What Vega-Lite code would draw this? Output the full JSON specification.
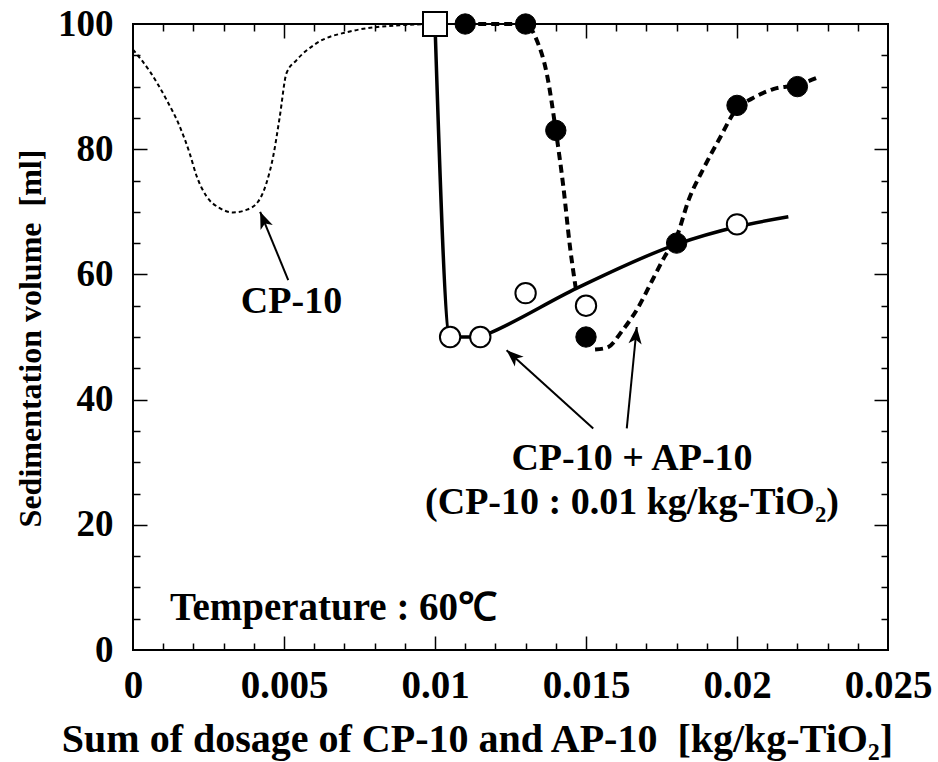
{
  "$schema": "https://vega.github.io/schema/vega-lite/v6.json",
  "width": 755,
  "height": 626,
  "autosize": "none",
  "padding": {"left": 133, "top": 24, "right": 50, "bottom": 112},
  "background": "white",
  "config": {
    "view": {"stroke": "black", "strokeWidth": 2},
    "font": "Liberation Serif",
    "axis": {"domain": false, "grid": false, "labelFont": "Liberation Serif", "titleFont": "Liberation Serif", "labelColor": "black", "titleColor": "black", "tickColor": "black", "labelFontWeight": "bold", "titleFontWeight": "bold"}
  },
  "datasets": {
    "curves": [
      {"series": "cp10", "x": 0, "y": 95.9},
      {"series": "cp10", "x": 0.00056, "y": 92.4},
      {"series": "cp10", "x": 0.00111, "y": 87.9},
      {"series": "cp10", "x": 0.00155, "y": 83.6},
      {"series": "cp10", "x": 0.00188, "y": 79.3},
      {"series": "cp10", "x": 0.0021, "y": 75.8},
      {"series": "cp10", "x": 0.00243, "y": 72.5},
      {"series": "cp10", "x": 0.00287, "y": 70.6},
      {"series": "cp10", "x": 0.00331, "y": 69.9},
      {"series": "cp10", "x": 0.00375, "y": 70.3},
      {"series": "cp10", "x": 0.00414, "y": 71.6},
      {"series": "cp10", "x": 0.00442, "y": 74.6},
      {"series": "cp10", "x": 0.00464, "y": 78.8},
      {"series": "cp10", "x": 0.00486, "y": 85.2},
      {"series": "cp10", "x": 0.00508, "y": 92.1},
      {"series": "cp10", "x": 0.00541, "y": 94.2},
      {"series": "cp10", "x": 0.00607, "y": 96.9},
      {"series": "cp10", "x": 0.00718, "y": 98.8},
      {"series": "cp10", "x": 0.00883, "y": 99.8},
      {"series": "cp10", "x": 0.01, "y": 100},
      {"series": "solid", "x": 0.01, "y": 100},
      {"series": "solid", "x": 0.0105, "y": 50},
      {"series": "solid", "x": 0.0115, "y": 50},
      {"series": "solid", "x": 0.0118, "y": 50.6},
      {"series": "solid", "x": 0.0147, "y": 57.8},
      {"series": "solid", "x": 0.018, "y": 64.8},
      {"series": "solid", "x": 0.02, "y": 67.6},
      {"series": "solid", "x": 0.0217, "y": 69.2},
      {"series": "dashA", "x": 0.011, "y": 100},
      {"series": "dashA", "x": 0.012, "y": 100},
      {"series": "dashA", "x": 0.013, "y": 100},
      {"series": "dashA", "x": 0.01337, "y": 97.4},
      {"series": "dashA", "x": 0.0137, "y": 92.1},
      {"series": "dashA", "x": 0.014, "y": 83},
      {"series": "dashA", "x": 0.01425, "y": 74},
      {"series": "dashA", "x": 0.01447, "y": 64.4},
      {"series": "dashA", "x": 0.01467, "y": 57.5},
      {"series": "dashB", "x": 0.0153, "y": 48},
      {"series": "dashB", "x": 0.0157, "y": 48.3},
      {"series": "dashB", "x": 0.0162, "y": 51},
      {"series": "dashB", "x": 0.0167, "y": 54.5},
      {"series": "dashB", "x": 0.0172, "y": 59.1},
      {"series": "dashB", "x": 0.0176, "y": 62.8},
      {"series": "dashB", "x": 0.018, "y": 66},
      {"series": "dashB", "x": 0.0184, "y": 71.9},
      {"series": "dashB", "x": 0.0189, "y": 77},
      {"series": "dashB", "x": 0.0194, "y": 81.5},
      {"series": "dashB", "x": 0.02, "y": 86.5},
      {"series": "dashB", "x": 0.0205, "y": 88.1},
      {"series": "dashB", "x": 0.0212, "y": 89.6},
      {"series": "dashB", "x": 0.022, "y": 90.3},
      {"series": "dashB", "x": 0.02275, "y": 91.6}
    ],
    "points": [
      {"kind": "open", "x": 0.0105, "y": 50},
      {"kind": "open", "x": 0.0115, "y": 50},
      {"kind": "open", "x": 0.013, "y": 57},
      {"kind": "open", "x": 0.015, "y": 55},
      {"kind": "open", "x": 0.02, "y": 68},
      {"kind": "square", "x": 0.01, "y": 100},
      {"kind": "filled", "x": 0.011, "y": 100},
      {"kind": "filled", "x": 0.013, "y": 100},
      {"kind": "filled", "x": 0.014, "y": 83},
      {"kind": "filled", "x": 0.015, "y": 50},
      {"kind": "filled", "x": 0.018, "y": 65},
      {"kind": "filled", "x": 0.02, "y": 87},
      {"kind": "filled", "x": 0.022, "y": 90}
    ],
    "arrows": [
      {"arrow": "a1", "end": "tail", "x": 0.00514, "y": 59.1},
      {"arrow": "a1", "end": "head", "x": 0.00421, "y": 70.0},
      {"arrow": "a2", "end": "tail", "x": 0.01524, "y": 35.4},
      {"arrow": "a2", "end": "head", "x": 0.01237, "y": 47.9},
      {"arrow": "a3", "end": "tail", "x": 0.01635, "y": 35.4},
      {"arrow": "a3", "end": "head", "x": 0.01668, "y": 51.6}
    ],
    "notes": [
      {"note": "cp", "x": 0.005248, "y": 55.6, "text": "CP-10"},
      {"note": "mix1", "x": 0.016523, "y": 30.5, "text": "CP-10 + AP-10"},
      {"note": "mix2", "x": 0.016523, "y": 23.5, "text": "(CP-10 : 0.01 kg/kg-TiO₂)"},
      {"note": "temp", "x": 0.001225, "y": 6.7, "text": "Temperature : 60℃"}
    ]
  },
  "resolve": {"axis": {"x": "independent", "y": "independent"}},
  "layer": [
    {
      "data": {"name": "curves"},
      "transform": [{"filter": "datum.series === 'cp10'"}],
      "mark": {"type": "line", "color": "black", "strokeWidth": 2, "strokeDash": [4, 3], "interpolate": "monotone"},
      "encoding": {
        "x": {"field": "x", "type": "quantitative", "scale": {"domain": [0, 0.025], "nice": false},
          "axis": {"orient": "bottom", "values": [0, 0.005, 0.01, 0.015, 0.02, 0.025], "ticks": false, "labelFontSize": 39, "labelPadding": 35, "labelBaseline": "middle", "labelFlush": false, "labelOverlap": false, "labelExpr": "datum.value === 0 ? '0' : format(datum.value, '.3~f')",
            "title": "Sum of dosage of CP-10 and AP-10\u00a0 [kg/kg-TiO₂]", "titleFontSize": 40, "titleX": 344, "titleY": 89, "titleBaseline": "middle", "titleAnchor": "middle"}},
        "y": {"field": "y", "type": "quantitative", "scale": {"domain": [0, 100], "nice": false},
          "axis": {"orient": "left", "values": [0, 20, 40, 60, 80, 100], "ticks": false, "labelFontSize": 37, "labelPadding": 20, "labelBaseline": "middle", "labelFlush": false, "labelOverlap": false,
            "title": "Sedimentation volume\u00a0 [ml]", "titleFontSize": 32, "titleAngle": -90, "titleX": -103, "titleY": 314, "titleBaseline": "middle", "titleAlign": "center"}}
      }
    },
    {
      "data": {"name": "curves"},
      "transform": [{"filter": "datum.series === 'solid'"}],
      "mark": {"type": "line", "color": "black", "strokeWidth": 3.5, "interpolate": "monotone"},
      "encoding": {
        "x": {"field": "x", "type": "quantitative", "scale": {"domain": [0, 0.025], "nice": false},
          "axis": {"orient": "bottom", "values": [0.005, 0.01, 0.015, 0.02], "labels": false, "tickSize": -14, "tickWidth": 1.5, "title": null}},
        "y": {"field": "y", "type": "quantitative", "scale": {"domain": [0, 100], "nice": false},
          "axis": {"orient": "left", "values": [20, 40, 60, 80], "labels": false, "tickSize": -14, "tickWidth": 1.5, "title": null}}
      }
    },
    {
      "data": {"name": "curves"},
      "transform": [{"filter": "datum.series === 'dashA'"}],
      "mark": {"type": "line", "color": "black", "strokeWidth": 4, "strokeDash": [8, 5], "interpolate": "monotone"},
      "encoding": {
        "x": {"field": "x", "type": "quantitative", "scale": {"domain": [0, 0.025], "nice": false},
          "axis": {"orient": "bottom", "values": [0.001, 0.002, 0.003, 0.004, 0.006, 0.007, 0.008, 0.009, 0.011, 0.012, 0.013, 0.014, 0.016, 0.017, 0.018, 0.019, 0.021, 0.022, 0.023, 0.024], "labels": false, "tickSize": -7, "tickWidth": 1.5, "title": null}},
        "y": {"field": "y", "type": "quantitative", "scale": {"domain": [0, 100], "nice": false},
          "axis": {"orient": "left", "values": [5, 10, 15, 25, 30, 35, 45, 50, 55, 65, 70, 75, 85, 90, 95], "labels": false, "tickSize": -7, "tickWidth": 1.5, "title": null}}
      }
    },
    {
      "data": {"name": "curves"},
      "transform": [{"filter": "datum.series === 'dashB'"}],
      "mark": {"type": "line", "color": "black", "strokeWidth": 4, "strokeDash": [8, 5], "interpolate": "monotone"},
      "encoding": {
        "x": {"field": "x", "type": "quantitative", "scale": {"domain": [0, 0.025], "nice": false},
          "axis": {"orient": "top", "values": [0.005, 0.01, 0.015, 0.02], "labels": false, "tickSize": -14, "tickWidth": 1.5, "title": null}},
        "y": {"field": "y", "type": "quantitative", "scale": {"domain": [0, 100], "nice": false},
          "axis": {"orient": "right", "values": [20, 40, 60, 80], "labels": false, "tickSize": -14, "tickWidth": 1.5, "title": null}}
      }
    },
    {
      "data": {"name": "arrows"},
      "mark": {"type": "line", "color": "black", "strokeWidth": 2},
      "encoding": {
        "detail": {"field": "arrow"},
        "x": {"field": "x", "type": "quantitative", "scale": {"domain": [0, 0.025], "nice": false},
          "axis": {"orient": "top", "values": [0.001, 0.002, 0.003, 0.004, 0.006, 0.007, 0.008, 0.009, 0.011, 0.012, 0.013, 0.014, 0.016, 0.017, 0.018, 0.019, 0.021, 0.022, 0.023, 0.024], "labels": false, "tickSize": -7, "tickWidth": 1.5, "title": null}},
        "y": {"field": "y", "type": "quantitative", "scale": {"domain": [0, 100], "nice": false},
          "axis": {"orient": "right", "values": [5, 10, 15, 25, 30, 35, 45, 50, 55, 65, 70, 75, 85, 90, 95], "labels": false, "tickSize": -7, "tickWidth": 1.5, "title": null}}
      }
    },
    {
      "data": {"name": "arrows"},
      "transform": [{"filter": "datum.arrow === 'a1' && datum.end === 'head'"}],
      "mark": {"type": "point", "shape": "M0,0L0.6,1.55L0,1.15L-0.6,1.55Z", "size": 484, "angle": 337.5, "filled": true, "color": "black", "opacity": 1},
      "encoding": {
        "x": {"field": "x", "type": "quantitative", "scale": {"domain": [0, 0.025], "nice": false}, "axis": null},
        "y": {"field": "y", "type": "quantitative", "scale": {"domain": [0, 100], "nice": false}, "axis": null}
      }
    },
    {
      "data": {"name": "arrows"},
      "transform": [{"filter": "datum.arrow === 'a2' && datum.end === 'head'"}],
      "mark": {"type": "point", "shape": "M0,0L0.6,1.55L0,1.15L-0.6,1.55Z", "size": 484, "angle": 312, "filled": true, "color": "black", "opacity": 1},
      "encoding": {
        "x": {"field": "x", "type": "quantitative", "scale": {"domain": [0, 0.025], "nice": false}, "axis": null},
        "y": {"field": "y", "type": "quantitative", "scale": {"domain": [0, 100], "nice": false}, "axis": null}
      }
    },
    {
      "data": {"name": "arrows"},
      "transform": [{"filter": "datum.arrow === 'a3' && datum.end === 'head'"}],
      "mark": {"type": "point", "shape": "M0,0L0.6,1.55L0,1.15L-0.6,1.55Z", "size": 484, "angle": 5.6, "filled": true, "color": "black", "opacity": 1},
      "encoding": {
        "x": {"field": "x", "type": "quantitative", "scale": {"domain": [0, 0.025], "nice": false}, "axis": null},
        "y": {"field": "y", "type": "quantitative", "scale": {"domain": [0, 100], "nice": false}, "axis": null}
      }
    },
    {
      "data": {"name": "points"},
      "transform": [{"filter": "datum.kind === 'open'"}],
      "mark": {"type": "point", "shape": "circle", "size": 415, "filled": true, "fill": "white", "stroke": "black", "strokeWidth": 2, "opacity": 1},
      "encoding": {
        "x": {"field": "x", "type": "quantitative", "scale": {"domain": [0, 0.025], "nice": false}, "axis": null},
        "y": {"field": "y", "type": "quantitative", "scale": {"domain": [0, 100], "nice": false}, "axis": null}
      }
    },
    {
      "data": {"name": "points"},
      "transform": [{"filter": "datum.kind === 'square'"}],
      "mark": {"type": "point", "shape": "square", "size": 576, "filled": true, "fill": "white", "stroke": "black", "strokeWidth": 2, "opacity": 1},
      "encoding": {
        "x": {"field": "x", "type": "quantitative", "scale": {"domain": [0, 0.025], "nice": false}, "axis": null},
        "y": {"field": "y", "type": "quantitative", "scale": {"domain": [0, 100], "nice": false}, "axis": null}
      }
    },
    {
      "data": {"name": "points"},
      "transform": [{"filter": "datum.kind === 'filled'"}],
      "mark": {"type": "point", "shape": "circle", "size": 415, "filled": true, "fill": "black", "stroke": "black", "strokeWidth": 1, "opacity": 1},
      "encoding": {
        "x": {"field": "x", "type": "quantitative", "scale": {"domain": [0, 0.025], "nice": false}, "axis": null},
        "y": {"field": "y", "type": "quantitative", "scale": {"domain": [0, 100], "nice": false}, "axis": null}
      }
    },
    {
      "data": {"name": "notes"},
      "transform": [{"filter": "datum.note !== 'temp'"}],
      "mark": {"type": "text", "font": "Liberation Serif", "fontWeight": "bold", "fontSize": 38, "align": "center", "baseline": "middle", "color": "black"},
      "encoding": {
        "x": {"field": "x", "type": "quantitative", "scale": {"domain": [0, 0.025], "nice": false}, "axis": null},
        "y": {"field": "y", "type": "quantitative", "scale": {"domain": [0, 100], "nice": false}, "axis": null},
        "text": {"field": "text"}
      }
    },
    {
      "data": {"name": "notes"},
      "transform": [{"filter": "datum.note === 'temp'"}],
      "mark": {"type": "text", "font": "Liberation Serif", "fontWeight": "bold", "fontSize": 39, "align": "left", "baseline": "middle", "color": "black"},
      "encoding": {
        "x": {"field": "x", "type": "quantitative", "scale": {"domain": [0, 0.025], "nice": false}, "axis": null},
        "y": {"field": "y", "type": "quantitative", "scale": {"domain": [0, 100], "nice": false}, "axis": null},
        "text": {"field": "text"}
      }
    }
  ]
}
